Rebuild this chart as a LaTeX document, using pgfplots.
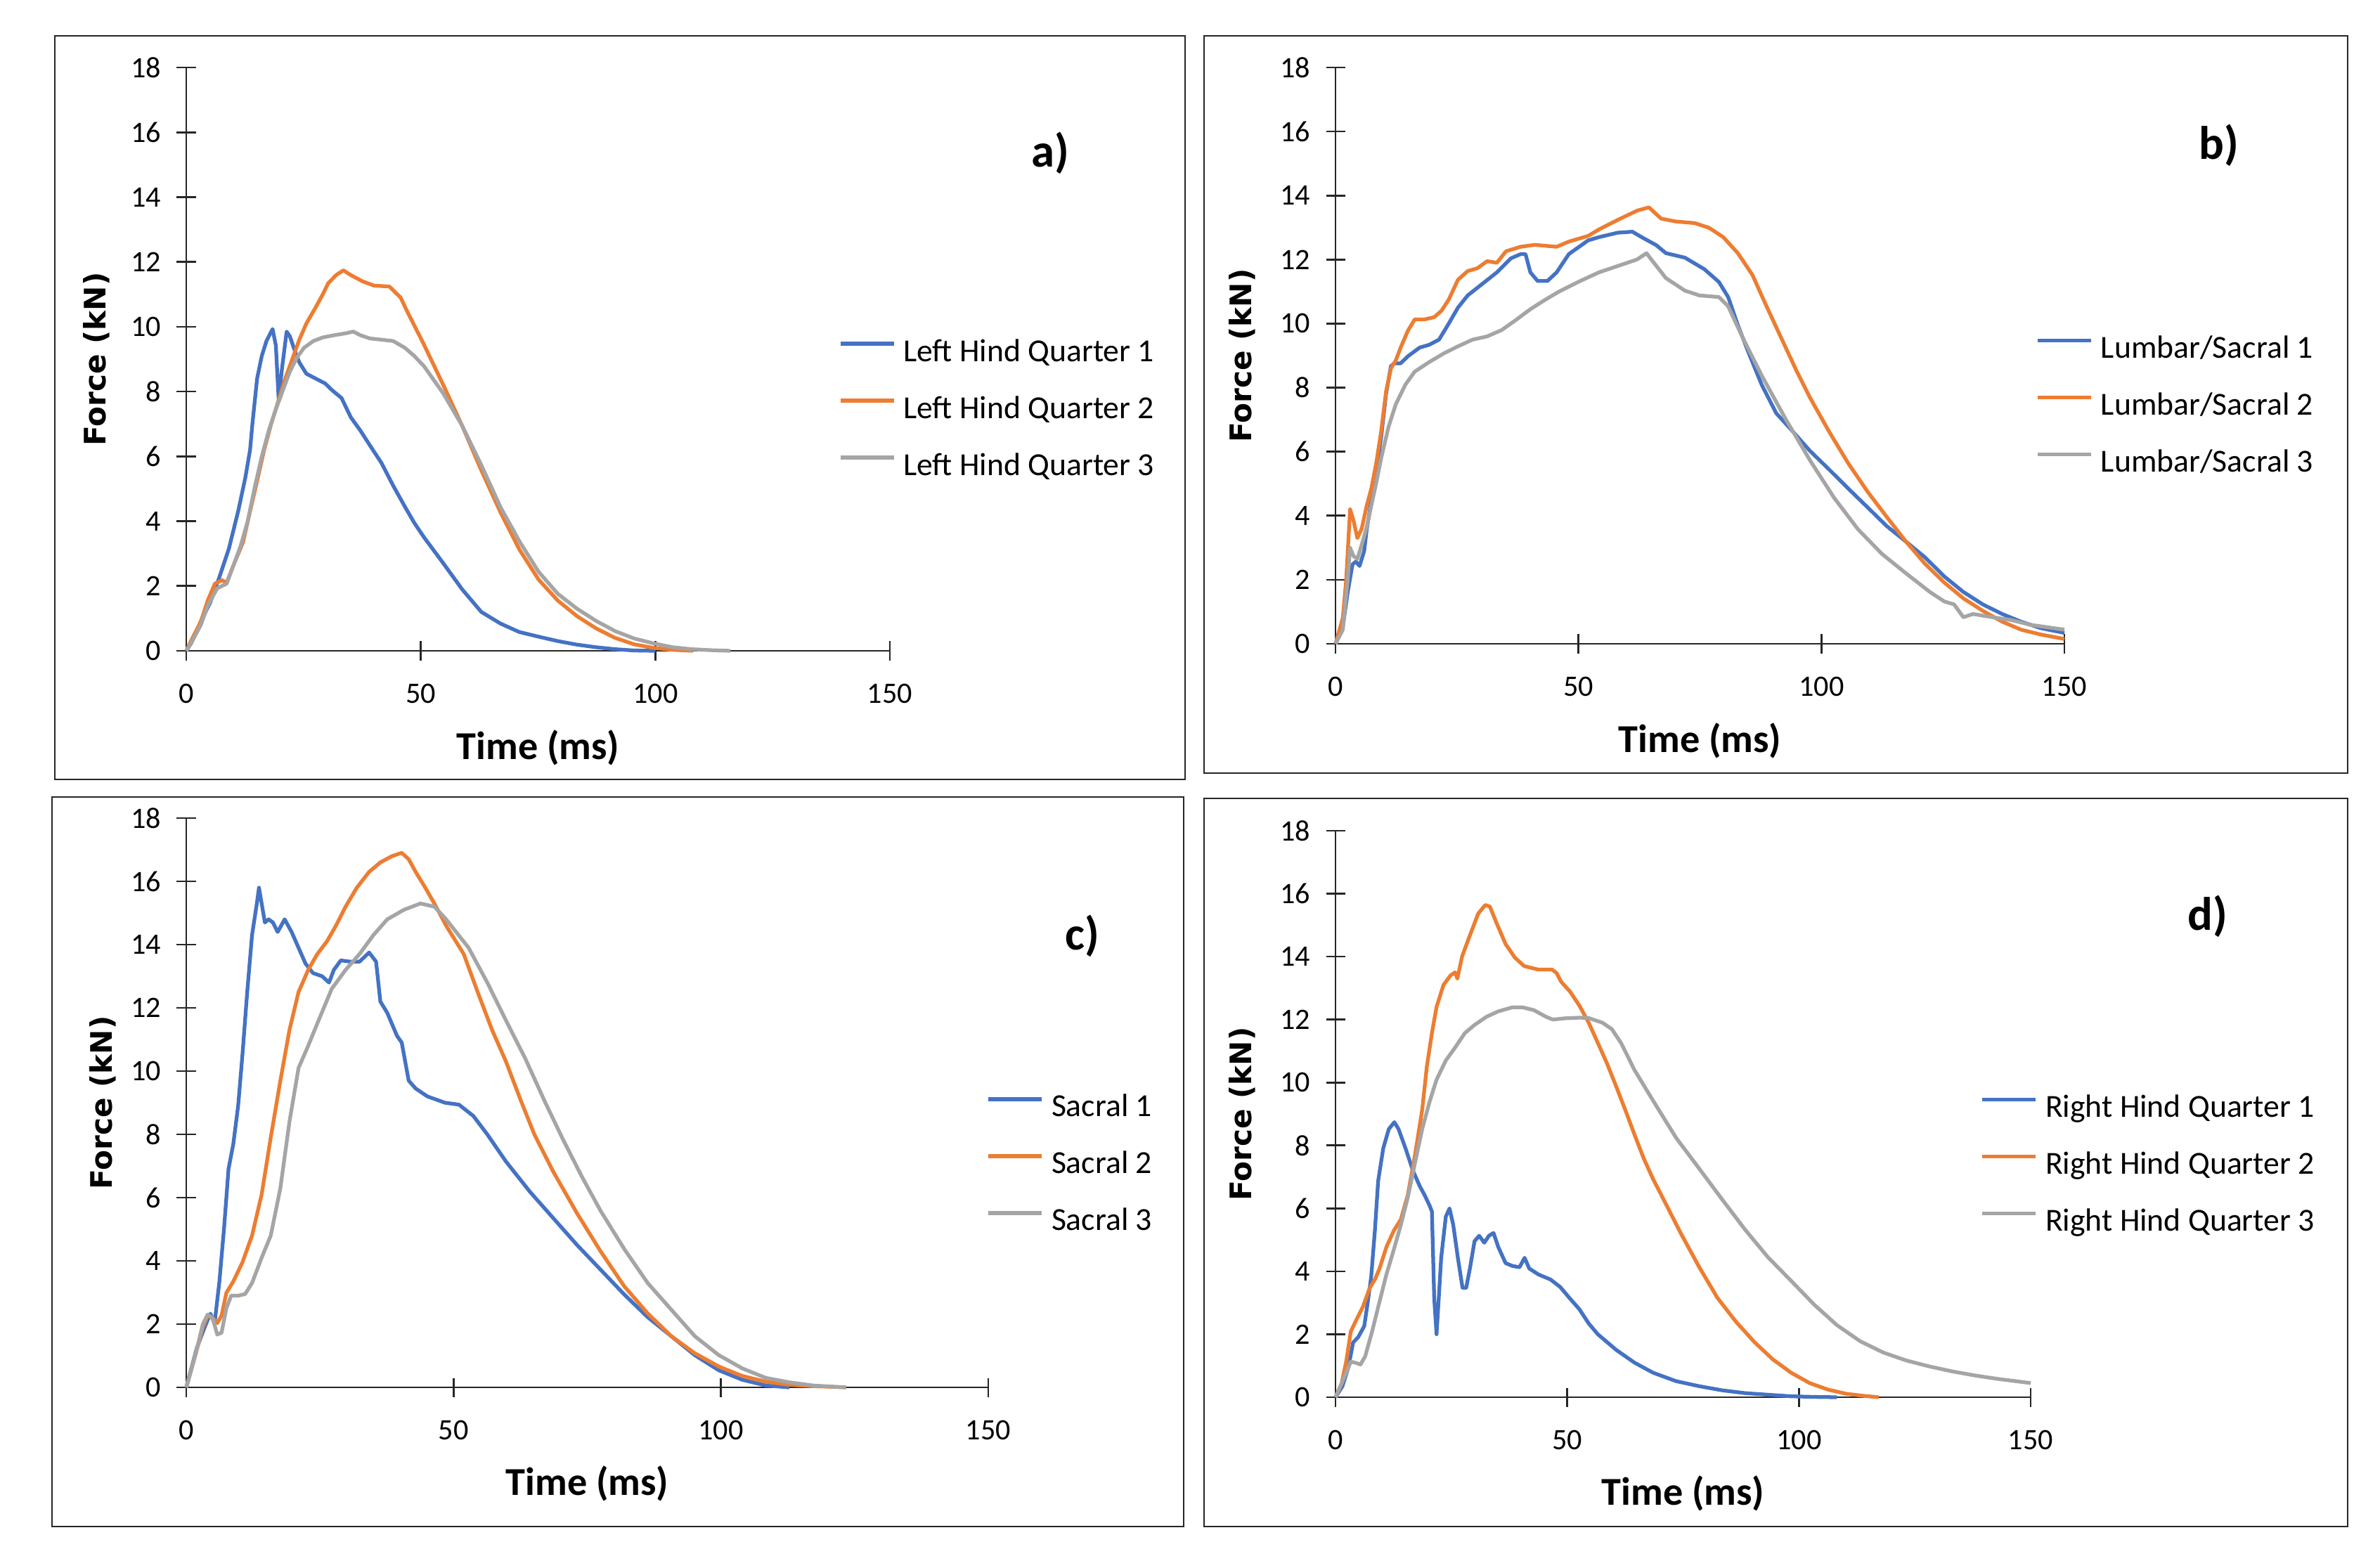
\documentclass[border=0pt]{standalone}
\usepackage{fontspec}
\setmainfont{Carlito}
\newfontfamily\dejavu{DejaVu Sans}
\usepackage{pgfplots}
\pgfplotsset{compat=1.18}

\definecolor{xblue}{HTML}{4472C4}
\definecolor{xorange}{HTML}{ED7D31}
\definecolor{xgray}{HTML}{A5A5A5}

\tikzset{plab/.style={font=\bfseries\fontsize{19}{22}\selectfont}}

\pgfplotsset{
  panel/.style={
    scale only axis, clip=false, anchor=south west,
    xmin=0, xmax=150, ymin=0, ymax=18,
    xtick={0,50,100,150}, ytick={0,2,...,18},
    axis lines=left,
    axis line style={-, line width=0.75pt, black!85},
    tick style={line width=0.75pt, black!85},
    major tick length=0.27cm, tick align=center,
    /pgf/number format/assume math mode=true,
    ticklabel style={font=\fontsize{12}{14}\selectfont},
    xticklabel style={yshift=-0.21cm},
    yticklabel style={xshift=-0.1cm},
    xlabel={Time (ms)}, ylabel={Force (kN)},
    xlabel style={font=\bfseries\fontsize{16}{19}\selectfont, anchor=center},
    ylabel style={font=\dejavu\bfseries\fontsize{12}{14}\selectfont, anchor=center},
    every axis plot/.append style={line width=1.5pt, line join=round},
    legend style={draw=none, fill=none, inner sep=0pt, outer sep=0pt,
      anchor=west, row sep=0.43cm,
      font=\fontsize{13}{15}\selectfont,
      nodes={inner sep=0pt, text height=0.3cm, text depth=0.08cm},
      /tikz/every odd column/.append style={column sep=0.11cm}},
    legend cell align=left,
    legend image code/.code={\draw[##1] (0cm,0.14cm) -- (0.76cm,0.14cm);},
  },
}

\begin{document}
\begin{tikzpicture}
\path[use as bounding box, fill=white] (0,0) rectangle (33.86,22.30);
\draw[line width=0.75pt, black!85] (0.78,11.21) rectangle (16.86,21.79);
\draw[line width=0.75pt, black!85] (17.13,11.30) rectangle (33.40,21.79);
\draw[line width=0.75pt, black!85] (0.74,0.58) rectangle (16.84,10.96);
\draw[line width=0.75pt, black!85] (17.13,0.58) rectangle (33.40,10.94);

% a) left hind quarter
\begin{axis}[panel, at={(2.65cm,13.04cm)}, width=10.01cm, height=8.30cm,
  xlabel style={at={(axis description cs:0.5,-0.166)}},
  ylabel style={at={(axis description cs:-0.128,0.5)}},
  legend style={at={(axis description cs:0.927,0.412)}}]
\addplot[xblue] coordinates {(0,0)(1.1,0.25)(3.1,0.9)(5.1,1.49)(7.1,2.29)(9.1,3.16)(11.1,4.33)(12.6,5.35)(13.6,6.2)(14.1,7.0)(15.1,8.4)(16.1,9.1)(17.1,9.56)(18.4,9.93)(19.1,9.42)(19.7,7.75)(20.4,8.7)(21.4,9.85)(22.1,9.7)(23.1,9.27)(24.1,8.9)(25.6,8.55)(27.6,8.4)(29.6,8.25)(31.1,8.04)(33.1,7.8)(35.1,7.2)(37.1,6.8)(39.1,6.35)(41.6,5.8)(44.1,5.1)(46.6,4.45)(48.6,3.95)(50.7,3.5)(54.8,2.7)(58.8,1.9)(62.9,1.2)(67,0.84)(71,0.58)(75,0.44)(79.2,0.3)(83.3,0.19)(87.4,0.11)(91.4,0.05)(95.5,0.01)(100,0)};
\addlegendentry{Left Hind Quarter 1}
\addplot[xorange] coordinates {(0,0)(1.1,0.33)(3.1,0.9)(4.6,1.56)(6.1,2.07)(7.6,2.18)(8.6,2.1)(9.9,2.58)(11.1,3.0)(12.1,3.35)(13.6,4.3)(15.1,5.24)(16.6,6.2)(18.1,7.0)(19.6,7.7)(21.1,8.4)(22.6,9.0)(24.1,9.6)(25.6,10.1)(27.6,10.6)(29.1,11.0)(30.3,11.35)(32,11.6)(33.5,11.74)(35,11.6)(37.6,11.4)(40,11.27)(43.3,11.24)(45.7,10.9)(47,10.5)(50.5,9.5)(54.8,8.2)(58.8,6.95)(62.9,5.57)(67,4.27)(71,3.13)(75.1,2.2)(79.2,1.55)(83.3,1.07)(87.4,0.69)(91.4,0.4)(95.5,0.2)(99.6,0.09)(103.7,0.03)(108,0)};
\addlegendentry{Left Hind Quarter 2}
\addplot[xgray] coordinates {(0,0)(1.1,0.25)(3.1,0.8)(4.6,1.4)(6.6,1.93)(8.6,2.07)(10.1,2.65)(11.6,3.24)(13.1,4.0)(14.6,5.05)(16.1,6.0)(17.6,6.8)(19.1,7.45)(20.6,8.04)(22.1,8.62)(23.6,9.05)(25.1,9.35)(27.1,9.56)(29.1,9.67)(31.6,9.74)(34.1,9.8)(35.6,9.85)(37.1,9.74)(39.1,9.64)(41.6,9.6)(44.1,9.56)(46.6,9.35)(48.6,9.1)(50.7,8.78)(54.8,7.94)(58.8,6.95)(62.9,5.73)(67,4.43)(71.1,3.36)(75.1,2.44)(79.2,1.76)(83.3,1.3)(87.4,0.92)(91.4,0.61)(95.5,0.38)(99.6,0.23)(103.7,0.11)(107.7,0.05)(111.8,0.02)(116,0)};
\addlegendentry{Left Hind Quarter 3}
\node[plab] at (axis description cs:1.228,0.853) {a)};
\end{axis}

% b) lumbar/sacral
\begin{axis}[panel, at={(19.00cm,13.14cm)}, width=10.37cm, height=8.20cm,
  xlabel style={at={(axis description cs:0.5,-0.168)}},
  ylabel style={at={(axis description cs:-0.128,0.5)}},
  legend style={at={(axis description cs:0.961,0.410)}}]
\addplot[xblue] coordinates {(0,0)(1.5,0.53)(2.5,1.6)(3.5,2.48)(4.2,2.57)(4.95,2.43)(5.9,2.9)(6.4,3.54)(7.4,4.5)(8.4,5.4)(9.4,6.46)(10.4,7.8)(11.4,8.67)(12.1,8.76)(13.4,8.76)(14.9,8.98)(17.3,9.25)(19.3,9.34)(21.3,9.5)(23.3,10.0)(25.2,10.5)(27.2,10.88)(30.2,11.24)(33.2,11.6)(36.1,12.04)(38.1,12.17)(39.1,12.17)(40.1,11.6)(41.6,11.33)(43.6,11.33)(45.5,11.6)(48,12.17)(52,12.6)(54.2,12.7)(58.1,12.84)(61.1,12.87)(63,12.7)(66,12.45)(68,12.2)(71.9,12.06)(75.9,11.7)(78.9,11.3)(80.8,10.83)(82.8,9.95)(84.8,9.17)(87.7,8.09)(90.7,7.2)(93.7,6.7)(97.6,6.03)(101.6,5.44)(105.5,4.85)(109.5,4.26)(113.4,3.68)(117.4,3.19)(121.3,2.7)(125.3,2.1)(129.2,1.62)(133.2,1.23)(137.2,0.93)(141.1,0.69)(145.1,0.49)(150,0.34)};
\addlegendentry{Lumbar/Sacral 1}
\addplot[xorange] coordinates {(0,0)(1.5,0.8)(2.2,2.0)(3.0,4.2)(3.7,3.85)(4.5,3.3)(5.4,3.6)(6.4,4.3)(7.4,4.87)(8.4,5.66)(9.4,6.64)(10.4,7.88)(11.4,8.6)(12.4,8.85)(13.4,9.25)(14.9,9.78)(16.3,10.13)(18.3,10.13)(20.3,10.2)(21.8,10.4)(23.3,10.75)(25.2,11.37)(27.2,11.64)(29.2,11.73)(31.2,11.95)(33.2,11.9)(35.1,12.26)(38.1,12.4)(41,12.46)(45.5,12.4)(48,12.56)(52,12.74)(54.2,12.94)(58.1,13.24)(62.1,13.53)(64.5,13.63)(67,13.28)(70,13.19)(73.9,13.14)(76.9,12.99)(79.8,12.7)(82.8,12.2)(85.8,11.52)(88.7,10.54)(91.7,9.56)(94.7,8.58)(97.6,7.7)(101.6,6.62)(105.5,5.64)(109.5,4.75)(113.4,3.97)(117.4,3.19)(121.3,2.5)(125.3,1.91)(129.2,1.42)(133.2,1.03)(137.2,0.69)(141.1,0.44)(145.1,0.29)(150,0.15)};
\addlegendentry{Lumbar/Sacral 2}
\addplot[xgray] coordinates {(0,0)(1.5,0.44)(2.5,2.0)(3.0,3.0)(3.7,2.74)(4.5,2.65)(5.4,3.1)(6.4,3.63)(7.4,4.34)(8.4,5.04)(9.4,5.8)(10.9,6.77)(12.4,7.48)(14.4,8.1)(16.3,8.5)(19.3,8.8)(22.3,9.07)(25.2,9.29)(28.2,9.5)(31.2,9.6)(34.2,9.8)(37,10.1)(40.1,10.45)(43.2,10.75)(46,11.0)(50.2,11.32)(54.2,11.6)(58.1,11.8)(62,12.0)(64,12.2)(65,12.0)(68,11.42)(71.9,11.03)(74.9,10.88)(78.9,10.83)(80.8,10.54)(83.8,9.56)(87.7,8.38)(92.7,7.0)(97.6,5.74)(102.6,4.56)(107.5,3.58)(112.5,2.8)(117.4,2.2)(122.3,1.62)(125.3,1.32)(127.3,1.23)(129.2,0.83)(131.2,0.93)(135.2,0.83)(139.1,0.74)(143.1,0.59)(150,0.44)};
\addlegendentry{Lumbar/Sacral 3}
\node[plab] at (axis description cs:1.212,0.865) {b)};
\end{axis}

% c) sacral
\begin{axis}[panel, at={(2.65cm,2.56cm)}, width=11.41cm, height=8.10cm,
  xlabel style={at={(axis description cs:0.5,-0.169)}},
  ylabel style={at={(axis description cs:-0.104,0.5)}},
  legend style={at={(axis description cs:0.998,0.389)}}]
\addplot[xblue] coordinates {(0,0)(2,1.26)(3.6,1.97)(4.5,2.33)(5.3,2.03)(6.2,3.35)(7.1,5.1)(7.9,6.9)(8.8,7.7)(9.7,8.9)(10.5,10.5)(11.4,12.5)(12.3,14.3)(13.2,15.3)(13.6,15.8)(14.3,15.1)(14.7,14.7)(15.4,14.8)(16.2,14.7)(17.1,14.4)(18.4,14.8)(19.7,14.4)(21,13.9)(22.3,13.4)(23.7,13.1)(25.4,13.0)(26.7,12.8)(27.6,13.2)(28.9,13.5)(30.7,13.46)(32.4,13.46)(34.2,13.75)(35.5,13.46)(36.3,12.2)(37.6,11.84)(39.4,11.12)(40.3,10.9)(41.6,9.7)(42.9,9.45)(45.1,9.2)(48.4,9.0)(51,8.94)(53.7,8.58)(56.3,8.0)(59.8,7.14)(64.3,6.18)(68.7,5.34)(73.1,4.5)(77.5,3.72)(81.9,2.94)(86.3,2.22)(90.7,1.62)(95.1,1.02)(99.6,0.54)(104,0.24)(108.4,0.06)(112.8,0)};
\addlegendentry{Sacral 1}
\addplot[xorange] coordinates {(0,0)(1.8,1.08)(3.1,1.9)(4,2.27)(4.9,2.2)(5.8,2.03)(6.6,2.27)(7.5,2.99)(8.8,3.35)(10.5,3.95)(12.3,4.8)(14.1,6.1)(15.8,7.9)(17.6,9.7)(19.3,11.3)(21,12.5)(22.8,13.2)(24.5,13.7)(26.3,14.1)(28,14.6)(29.8,15.2)(31.9,15.8)(34.2,16.3)(36.3,16.6)(38.5,16.8)(40.3,16.9)(41.6,16.7)(42.9,16.3)(44.7,15.8)(46.4,15.3)(48.6,14.6)(51.9,13.7)(54.5,12.5)(57.2,11.3)(59.8,10.3)(62.5,9.1)(65.1,8.0)(68.7,6.8)(73.1,5.5)(77.5,4.3)(81.9,3.2)(86.3,2.34)(90.7,1.62)(95.1,1.08)(99.6,0.66)(104,0.36)(108.4,0.18)(112.8,0.08)(117.2,0.04)(123.4,0)};
\addlegendentry{Sacral 2}
\addplot[xgray] coordinates {(0,0)(1.8,1.08)(3.1,2.0)(4,2.3)(4.9,2.2)(5.8,1.67)(6.6,1.73)(7.5,2.5)(8.4,2.9)(9.7,2.9)(11,2.95)(12.3,3.3)(14.1,4.1)(15.8,4.8)(17.6,6.3)(19.3,8.4)(21,10.1)(22.8,10.8)(24.5,11.5)(27.2,12.6)(29.8,13.2)(32.4,13.7)(35,14.3)(37.6,14.8)(40.7,15.1)(43.8,15.3)(46.4,15.2)(48.6,14.8)(52.8,13.9)(56.3,12.8)(59.8,11.6)(63.4,10.4)(67,9.06)(70.4,7.86)(74,6.66)(77.5,5.58)(81.9,4.38)(86.3,3.3)(90.7,2.46)(95.1,1.62)(99.6,1.02)(104,0.6)(108.4,0.3)(112.8,0.16)(117.2,0.06)(123.4,0)};
\addlegendentry{Sacral 3}
\node[plab] at (axis description cs:1.117,0.793) {c)};
\end{axis}

% d) right hind quarter
\begin{axis}[panel, at={(19.00cm,2.42cm)}, width=9.89cm, height=8.06cm,
  xlabel style={at={(axis description cs:0.5,-0.170)}},
  ylabel style={at={(axis description cs:-0.134,0.5)}},
  legend style={at={(axis description cs:0.928,0.408)}}]
\addplot[xblue] coordinates {(0,0)(1.5,0.35)(2.8,0.96)(3.8,1.74)(4.9,1.91)(6.2,2.26)(6.9,2.96)(7.7,3.83)(8.5,5.3)(9.2,6.87)(10.3,7.91)(11.5,8.52)(12.7,8.74)(13.6,8.52)(15.1,7.91)(16.7,7.2)(18.2,6.7)(19.2,6.43)(20.3,6.09)(20.8,5.9)(21.3,3.13)(21.8,2.0)(22.3,3.2)(22.8,4.43)(23.8,5.74)(24.6,6.0)(25.4,5.48)(26.4,4.43)(27.4,3.48)(28.2,3.48)(29,4.09)(30,4.96)(31,5.13)(32.1,4.91)(33.1,5.13)(34.1,5.22)(35.1,4.78)(36.7,4.26)(38.2,4.17)(39.7,4.13)(40.8,4.43)(41.8,4.09)(43.8,3.9)(46.4,3.74)(48.5,3.5)(50.5,3.15)(52.6,2.8)(54.6,2.35)(56.6,2.0)(60.6,1.5)(64.5,1.1)(68.5,0.78)(73.5,0.51)(78.5,0.35)(83.4,0.22)(88.4,0.13)(93.3,0.08)(98.3,0.03)(103.3,0.01)(108.2,0)};
\addlegendentry{Right Hind Quarter 1}
\addplot[xorange] coordinates {(0,0)(1.3,0.43)(2.3,1.13)(3.3,2.09)(4.4,2.43)(5.9,2.87)(7.4,3.48)(8.5,3.74)(9.5,4.09)(11,4.78)(12.6,5.3)(14.1,5.65)(15.6,6.43)(17.2,7.74)(18.7,9.13)(19.7,10.5)(20.8,11.57)(21.8,12.4)(23.3,13.1)(24.8,13.4)(25.8,13.5)(26.3,13.3)(27.3,14.0)(28.8,14.6)(30.8,15.37)(32.3,15.64)(33.3,15.59)(34.8,15.05)(36.7,14.4)(38.7,13.97)(40.7,13.7)(43.7,13.59)(46.7,13.59)(47.7,13.48)(48.7,13.2)(50.6,12.89)(52.6,12.45)(54.6,11.91)(56.6,11.26)(58.6,10.6)(60.6,9.86)(62.6,9.1)(64.5,8.35)(66.5,7.59)(68.5,6.94)(71.5,6.08)(74.5,5.21)(78.5,4.13)(82.4,3.16)(86.4,2.4)(90.4,1.75)(94.3,1.21)(98.3,0.78)(102.3,0.45)(106.3,0.24)(110.2,0.11)(114.2,0.04)(117.2,0)};
\addlegendentry{Right Hind Quarter 2}
\addplot[xgray] coordinates {(0,0)(1.8,0.6)(3.3,1.13)(4.4,1.09)(5.4,1.04)(6.4,1.3)(7.9,2.09)(9.5,3.04)(11,3.91)(12.6,4.7)(14.1,5.48)(15.6,6.35)(17.2,7.48)(18.7,8.52)(20.3,9.39)(21.8,10.09)(23.8,10.7)(25.9,11.13)(27.9,11.57)(30,11.83)(32.6,12.09)(35.1,12.26)(38.2,12.39)(40.3,12.39)(42.8,12.3)(45.4,12.09)(46.9,12.0)(49.5,12.04)(52.6,12.06)(54.6,12.05)(57.6,11.9)(59.6,11.7)(61.6,11.26)(64.5,10.4)(68.5,9.43)(73.5,8.24)(78.5,7.26)(83.4,6.29)(88.4,5.32)(93.3,4.45)(98.3,3.7)(103.3,2.94)(108.2,2.29)(113.2,1.78)(118.2,1.42)(123.1,1.17)(128.1,0.98)(133.1,0.82)(138,0.69)(143,0.58)(150,0.45)};
\addlegendentry{Right Hind Quarter 3}
\node[plab] at (axis description cs:1.255,0.849) {d)};
\end{axis}
\end{tikzpicture}
\end{document}
